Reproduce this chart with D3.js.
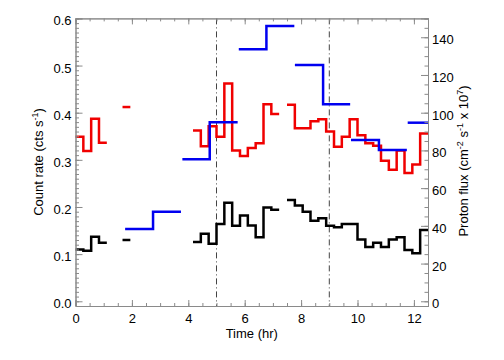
<!DOCTYPE html>
<html><head><meta charset="utf-8">
<script src="https://cdn.jsdelivr.net/npm/d3@7"></script>
<style>
html,body{margin:0;padding:0;background:#fff;}
svg{display:block;font-family:"Liberation Sans",Arial,Helvetica,sans-serif;}
</style></head>
<body><svg id="c" width="504" height="360"></svg>
<script>
// ---- data ----
const binWidth = 0.2778; // hr (1000 s bins)
const binStart = [0, 0.278, 0.556, 0.833, 1.667,
  4.167, 4.444, 4.722, 5.0, 5.278, 5.556, 5.833, 6.111, 6.389, 6.667, 6.944,
  7.5, 7.778, 8.056, 8.333, 8.611, 8.889, 9.167, 9.444, 9.722, 10.0, 10.278,
  10.556, 10.833, 11.111, 11.389, 11.667, 11.944, 12.222];
const redRate = [0.349, 0.319, 0.387, 0.336, 0.412,
  0.362, 0.329, 0.371, 0.349, 0.462, 0.320, 0.308, 0.325, 0.335, 0.418, 0.397,
  0.417, 0.367, 0.367, 0.382, 0.386, 0.360, 0.328, 0.349, 0.386, 0.352, 0.335,
  0.330, 0.298, 0.279, 0.320, 0.272, 0.290, 0.356];
const blackRate = [0.110, 0.107, 0.137, 0.124, 0.130,
  0.126, 0.143, 0.122, 0.164, 0.209, 0.160, 0.182, 0.161, 0.136, 0.199, 0.194,
  0.215, 0.203, 0.190, 0.171, 0.176, 0.160, 0.157, 0.164, 0.164, 0.131, 0.115,
  0.124, 0.115, 0.131, 0.136, 0.109, 0.102, 0.151];
const blueStart = [1.76, 2.75, 3.79, 4.76, 5.79, 6.77, 7.78, 8.78, 9.77, 10.76, 11.78];
const blueEnd   = [2.75, 3.74, 4.76, 5.75, 6.77, 7.76, 8.78, 9.74, 10.76, 11.75, 12.5];
const blueFlux  = [38.3, 47.5, 75.3, 94.9, 133.6, 146.0, 125.3, 104.5, 85.5, 80.2, 94.7];
const markerTimes = [5, 9];
const xTicks = [0, 2, 4, 6, 8, 10, 12];
const yLeftTicks = [0.0, 0.1, 0.2, 0.3, 0.4, 0.5, 0.6];
const yRightTicks = [0, 20, 40, 60, 80, 100, 120, 140];

// ---- scales ----
const svg = d3.select("#c");
const x = d3.scaleLinear().domain([0, 12.5]).range([75.5, 428]);
const yL = d3.scaleLinear().domain([-0.01, 0.6]).range([306, 18.4]);
const yR = d3.scaleLinear().domain([-2.5, 150]).range([306, 18.4]);
const axisColor = "#8a8a8a";
const fs = 13;

// marker lines
svg.selectAll("line.mk").data(markerTimes).enter().append("line")
  .attr("x1", d => x(d)).attr("x2", d => x(d))
  .attr("y1", yL.range()[1]).attr("y2", yL.range()[0])
  .attr("stroke", "#444").attr("stroke-width", 1)
  .attr("stroke-dasharray", "6,3,1,3");

// step series
function groups(starts, ends, vals) {
  const gs = []; let cur = null;
  starts.forEach((s, i) => {
    if (cur && Math.abs(s - cur.end) < 0.02) { cur.pts.push([s, vals[i]]); cur.end = ends[i]; cur.last = vals[i]; }
    else { cur = {pts: [[s, vals[i]]], end: ends[i], last: vals[i]}; gs.push(cur); }
  });
  return gs.map(g => g.pts.concat([[g.end, g.last]]));
}
const binEnd = binStart.map(s => s + binWidth);
function drawSteps(starts, ends, vals, ys, color) {
  const line = d3.line().x(d => x(Math.min(d[0], 12.5))).y(d => ys(d[1])).curve(d3.curveStepAfter);
  svg.append("g").selectAll("path").data(groups(starts, ends, vals)).enter().append("path")
    .attr("d", line).attr("fill", "none").attr("stroke", color)
    .attr("stroke-width", 2.5).attr("stroke-linejoin", "miter").attr("stroke-linecap", "butt");
}
drawSteps(binStart, binEnd, blackRate, yL, "#000");
drawSteps(binStart, binEnd, redRate, yL, "#f00000");
drawSteps(blueStart, blueEnd, blueFlux, yR, "#0000f0");

// ---- axes ----
function styleAxis(g) {
  g.selectAll(".domain").attr("stroke", axisColor);
  g.selectAll(".tick line").attr("stroke", axisColor);
  g.selectAll("text").attr("fill", "#000").attr("font-size", fs)
    .attr("font-family", '"Liberation Sans",Arial,sans-serif');
}
const xMinor = d3.range(0, 12.51, 0.5);
const yLMinor = d3.range(-0.0, 0.601, 0.01);
const yRMinor = d3.range(0, 150.1, 5);

// bottom
svg.append("g").attr("transform", "translate(0,306)")
  .call(d3.axisBottom(x).tickValues(xMinor).tickSize(-3).tickFormat("")).call(styleAxis);
svg.append("g").attr("transform", "translate(0,306)")
  .call(d3.axisBottom(x).tickValues(xTicks).tickSize(-6).tickPadding(8).tickFormat(d3.format("d"))).call(styleAxis);
// top
svg.append("g").attr("transform", "translate(0,18.4)")
  .call(d3.axisTop(x).tickValues(xMinor).tickSize(-3).tickFormat("")).call(styleAxis);
svg.append("g").attr("transform", "translate(0,18.4)")
  .call(d3.axisTop(x).tickValues(xTicks).tickSize(-6).tickFormat("")).call(styleAxis);
// left
svg.append("g").attr("transform", "translate(75.5,0)")
  .call(d3.axisLeft(yL).tickValues(yLMinor).tickSize(-3.5).tickFormat("")).call(styleAxis);
const gl = svg.append("g").attr("transform", "translate(75.5,0)")
  .call(d3.axisLeft(yL).tickValues(yLeftTicks).tickSize(-7).tickPadding(4).tickFormat(d3.format(".1f"))).call(styleAxis);
gl.selectAll("text").attr("dy", "0.5em");
// right
svg.append("g").attr("transform", "translate(428,0)")
  .call(d3.axisRight(yR).tickValues(yRMinor).tickSize(-3.5).tickFormat("")).call(styleAxis);
const gr = svg.append("g").attr("transform", "translate(428,0)")
  .call(d3.axisRight(yR).tickValues(yRightTicks).tickSize(-7).tickPadding(4).tickFormat(d3.format("d"))).call(styleAxis);
gr.selectAll("text").attr("dy", "0.5em");

// ---- titles ----
svg.append("text").attr("x", 251.75).attr("y", 338).attr("text-anchor", "middle")
  .attr("font-size", fs).text("Time (hr)");

function supText(el, parts) {
  parts.forEach(p => {
    const t = el.append("tspan").text(p.t);
    if (p.sup) t.attr("font-size", 9).attr("dy", -5);
    else if (p.after) t.attr("dy", 5);
  });
}
const lt = svg.append("text").attr("transform", "translate(43,162) rotate(-90)")
  .attr("text-anchor", "middle").attr("font-size", fs);
supText(lt, [{t: "Count rate (cts  s"}, {t: "-1", sup: true}, {t: ")", after: true}]);

const rt = svg.append("text").attr("transform", "translate(468,161) rotate(-90)")
  .attr("text-anchor", "middle").attr("font-size", fs);
supText(rt, [{t: "Proton flux (cm"}, {t: "-2", sup: true}, {t: " s", after: true},
  {t: "-1", sup: true}, {t: " x 10", after: true}, {t: "7", sup: true}, {t: ")", after: true}]);
</script></body></html>
